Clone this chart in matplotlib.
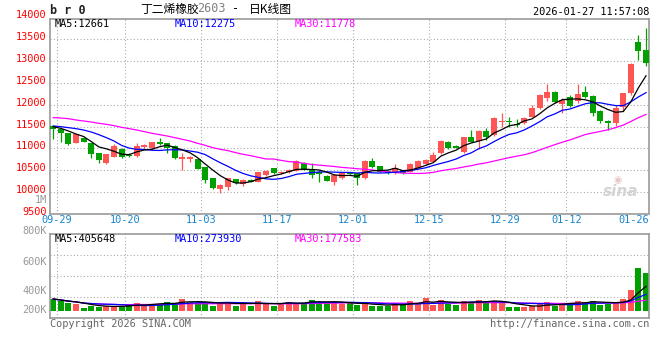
import matplotlib
matplotlib.use('Agg')
import matplotlib.pyplot as plt
import numpy as np
import pandas as pd

W, H = 660, 360
plt.rcParams['font.family'] = ['DejaVu Sans Mono', 'Noto Sans CJK SC']

# 丁二烯橡胶2603 日K, 09-29 .. 01-27
opens = [11514, 11438, 11346, 11133, 11232, 11118, 10890, 10677, 10814, 10981,
         10860, 10829, 11027, 11004, 11156, 11118, 11057, 10753, 10760, 10753,
         10570, 10319, 10075, 10113, 10296, 10190, 10281, 10243, 10395, 10547,
         10433, 10456, 10486, 10661, 10524, 10456, 10380, 10243, 10319, 10456,
         10433, 10319, 10715, 10600, 10486, 10433, 10509, 10471, 10547, 10646,
         10700, 10890, 11156, 11057, 10928, 11255, 11179, 11400, 11309, 11613,
         11636, 11560, 11575, 11727, 11917, 12161, 12298, 12016, 12168, 12093,
         12298, 12199, 11864, 11636, 11590, 11940, 12260, 13432, 13249]
closes = [11438, 11346, 11095, 11331, 11156, 10867, 10738, 10867, 11057, 10814,
          10820, 11057, 11080, 11141, 11103, 11004, 10776, 10814, 10814, 10540,
          10281, 10091, 10167, 10319, 10205, 10281, 10243, 10456, 10486, 10433,
          10471, 10509, 10715, 10509, 10395, 10418, 10266, 10395, 10433, 10418,
          10319, 10715, 10570, 10471, 10448, 10547, 10433, 10638, 10715, 10738,
          10852, 11179, 11019, 11019, 11255, 11156, 11400, 11270, 11686, 11636,
          11605, 11537, 11689, 11914, 12218, 12284, 12054, 12108, 11971, 12245,
          12184, 11818, 11623, 11575, 11933, 12267, 12929, 13226, 12950]
highs = [11525, 11450, 11350, 11340, 11240, 11125, 10900, 10880, 11100, 11000,
         10900, 11118, 11095, 11150, 11232, 11130, 11070, 10890, 10830, 10760,
         10580, 10330, 10180, 10330, 10310, 10300, 10300, 10470, 10500, 10560,
         10490, 10540, 10730, 10700, 10661, 10509, 10390, 10410, 10450, 10470,
         10450, 10730, 10776, 10610, 10500, 10646, 10520, 10661, 10730, 10750,
         10928, 11190, 11170, 11080, 11270, 11423, 11430, 11460, 11727, 11818,
         11727, 11666, 11720, 11993, 12245, 12473, 12310, 12146, 12222, 12473,
         12427, 12222, 11870, 11650, 11993, 12275, 12945, 13592, 13744]
lows = [11209, 11156, 11090, 11118, 11150, 10776, 10677, 10639, 10800, 10790,
        10800, 10800, 11010, 10990, 11090, 10890, 10760, 10509, 10684, 10530,
        10220, 10080, 9992, 10053, 10190, 10150, 10230, 10230, 10380, 10420,
        10420, 10440, 10480, 10500, 10319, 10243, 10250, 10167, 10300, 10400,
        10167, 10300, 10560, 10460, 10420, 10420, 10410, 10460, 10530, 10630,
        10690, 10880, 10990, 11000, 10900, 11140, 10990, 11195, 11290, 11499,
        11499, 11499, 11560, 11720, 11900, 12085, 12040, 11803, 11940, 12032,
        12146, 11750, 11580, 11423, 11514, 11864, 12222, 13021, 12891]
volumes = [198000, 165000, 127000, 110000, 55000, 83000, 72000, 83000, 83000, 61000,
           116000, 138000, 99000, 121000, 116000, 154000, 138000, 198000, 154000, 127000,
           138000, 88000, 154000, 154000, 88000, 138000, 88000, 171000, 127000, 88000,
           138000, 154000, 138000, 138000, 182000, 154000, 138000, 154000, 116000, 127000,
           99000, 138000, 83000, 83000, 83000, 138000, 116000, 171000, 127000, 210000,
           106000, 185000, 117000, 106000, 170000, 152000, 185000, 152000, 170000, 142000,
           61000, 61000, 72000, 83000, 130000, 142000, 79000, 126000, 139190, 172000,
           155000, 172000, 100000, 112060, 149000, 198000, 347000, 714240, 620000]

# MA values at the left edge (their windows reach back before 09-29)
ma5_head = [11498, 11460, 11400, 11331]
ma10_head = [11514, 11498, 11476, 11453, 11422, 11377, 11316, 11247, 11171]
ma30_head = [11704, 11696, 11681, 11651, 11628, 11605, 11575, 11552, 11521, 11483,
             11453, 11422, 11384, 11346, 11316, 11285, 11247, 11209, 11171, 11118,
             11072, 11019, 10981, 10951, 10905, 10867, 10836, 10798, 10760]

tick_labels = ['09-29', '10-20', '11-03', '11-17', '12-01', '12-15', '12-29', '01-12']
tick_idx = [0, 9, 19, 29, 39, 49, 59, 67]
last_label = '01-26'

RED = '#ff5555'
GREEN = '#00a000'
GRID = '#aaaaaa'
BORDER = '#999999'

n = len(closes)
x = np.arange(n)
o = np.array(opens); c = np.array(closes)
hi = np.array(highs); lo = np.array(lows)
cols = np.where(c >= o, RED, GREEN)

s = pd.Series(closes, dtype=float)
ma5 = s.rolling(5).mean().values
ma10 = s.rolling(10).mean().values
ma30 = s.rolling(30).mean().values
ma5[:4] = ma5_head
ma10[:9] = ma10_head
ma30[:29] = ma30_head

v = pd.Series(volumes, dtype=float)
vma5 = v.rolling(5, min_periods=1).mean().values
vma10 = v.rolling(10, min_periods=1).mean().values
vma30 = v.rolling(30, min_periods=1).mean().values

fig = plt.figure(figsize=(W / 100, H / 100), dpi=100)

def box(l, t, r, b):
    return [l / W, 1 - b / H, (r - l) / W, (b - t) / H]

ax1 = fig.add_axes(box(50, 19, 649, 213.5))
ax2 = fig.add_axes(box(50, 234, 649, 318))

for ax in (ax1, ax2):
    ax.set_xlim(-0.42, 78.39)
    ax.set_xticks([])
    ax.set_yticks([])
    for sp in ax.spines.values():
        sp.set_color(BORDER)
        sp.set_linewidth(1.2)
    for i in tick_idx:
        ax.axvline(i + 0.5, color=GRID, lw=0.8, ls=(0, (1, 2)), zorder=0)

# price pane
ax1.set_ylim(9516, 13956)
for lv in range(10000, 14000, 500):
    ax1.axhline(lv, color=GRID, lw=0.8, ls=(0, (1, 2)), zorder=0)

bw = 0.8
ax1.vlines(x, lo, hi, colors=cols, lw=0.9, zorder=2)
body = np.maximum(np.abs(c - o), 18)
ax1.bar(x, body, bottom=np.minimum(o, c), width=bw, color=cols, lw=0, zorder=3)
ax1.plot(x, ma30, color='#ff00ff', lw=0.9, zorder=4)
ax1.plot(x, ma10, color='#0000ff', lw=0.9, zorder=4)
ax1.plot(x, ma5, color='black', lw=0.9, zorder=4)

fs = 7.4
ytr = ax1.get_yaxis_transform()
for lv in range(9500, 14001, 500):
    ax1.annotate(str(lv), xy=(0, lv), xycoords=ytr, xytext=(-2.4, 1.5),
                 textcoords='offset points', ha='right', va='center',
                 color='#ff0000', fontsize=fs, annotation_clip=False)

xtr = ax1.get_xaxis_transform()
for i, lab in zip(tick_idx, tick_labels):
    ax1.annotate(lab, xy=(i + 0.5, 0), xycoords=xtr, xytext=(0, -5),
                 textcoords='offset points', ha='center', va='center',
                 color='#1586d0', fontsize=fs, annotation_clip=False)
ax1.annotate(last_label, xy=(1, 0), xycoords='axes fraction', xytext=(0, -5),
             textcoords='offset points', ha='right', va='center',
             color='#1586d0', fontsize=fs, annotation_clip=False)

def ma_labels(ax, a, b, cc):
    yy = 1 - 5 / ax.bbox.height
    ax.text(5 / 599, yy, 'MA5:%d' % a, transform=ax.transAxes,
            ha='left', va='center', fontsize=fs, color='black')
    ax.text(125 / 599, yy, 'MA10:%d' % b, transform=ax.transAxes,
            ha='left', va='center', fontsize=fs, color='#0000ff')
    ax.text(245 / 599, yy, 'MA30:%d' % cc, transform=ax.transAxes,
            ha='left', va='center', fontsize=fs, color='#ff00ff')

ma_labels(ax1, round(ma5[-1]), round(ma10[-1]), round(ma30[-1]))

# watermark
ax1.text(74.6, 10020, 'sina', fontsize=11, color='#d4d4d4', style='italic',
         fontweight='bold', family='DejaVu Sans', ha='center', va='center', zorder=1)
ax1.text(74.3, 10290, '◉', fontsize=7, color='#e6c8c8', family='DejaVu Sans',
         ha='center', va='center', zorder=1)

# volume pane
k = 16500
ax2.set_ylim(-7 * k, 77 * k)
yl = ax2.get_ylim()
for f in (0.25, 0.5, 0.75):
    ax2.axhline(yl[0] + f * (yl[1] - yl[0]), color=GRID, lw=0.8, ls=(0, (1, 2)), zorder=0)
ax2.bar(x, volumes, width=bw, color=cols, lw=0, zorder=2)
ax2.plot(x, vma30, color='#ff00ff', lw=0.9, zorder=3)
ax2.plot(x, vma10, color='#0000ff', lw=0.9, zorder=3)
ax2.plot(x, vma5, color='black', lw=0.9, zorder=3)
ma_labels(ax2, round(vma5[-1]), round(vma10[-1]), round(vma30[-1]))

vol_labels = [('1M', 200), ('800K', 231), ('600K', 262), ('400K', 291), ('200K', 310)]
for lab, py in vol_labels:
    fig.text(47 / W, 1 - py / H, lab, ha='right', va='center', fontsize=fs, color='#999999')

# header / footer
fig.text(50 / W, 1 - 10 / H, 'b r 0', ha='left', va='center', fontsize=8.5,
         fontweight='bold', color='#222222')
cjk = ['Noto Sans CJK SC', 'DejaVu Sans']
fig.text(140 / W, 1 - 9 / H, '丁二烯橡胶', ha='left', va='center', fontsize=8.5,
         family=cjk, color='black')
fig.text(197 / W, 1 - 9 / H, '2603', ha='left', va='center', fontsize=8.5,
         family='DejaVu Sans Mono', color='#808080')
fig.text(232 / W, 1 - 9 / H, '-', ha='left', va='center', fontsize=8.5,
         family='DejaVu Sans Mono', color='black')
fig.text(249 / W, 1 - 9 / H, '日K线图', ha='left', va='center', fontsize=8.5,
         family=cjk, color='black')
fig.text(649 / W, 1 - 12 / H, '2026-01-27 11:57:08', ha='right', va='center',
         fontsize=fs, color='black')
fig.text(50 / W, 1 - 324 / H, 'Copyright 2026 SINA.COM', ha='left', va='center',
         fontsize=fs, color='#666666')
fig.text(649 / W, 1 - 324 / H, 'http://finance.sina.com.cn', ha='right', va='center',
         fontsize=fs, color='#666666')

fig.savefig('out.png', dpi=100)
